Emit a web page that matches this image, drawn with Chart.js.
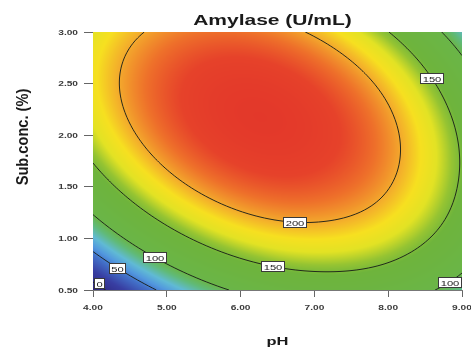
<!DOCTYPE html>
<html><head><meta charset="utf-8">
<script src="https://cdn.jsdelivr.net/npm/chart.js@4.4.0/dist/chart.umd.min.js"></script>
<style>html,body{margin:0;padding:0;background:#fff;}#wrap{width:471px;height:350px;}</style>
</head><body><div id="wrap"><canvas id="c" width="471" height="350"></canvas></div>
<script>
// ---------------- data ----------------
const chartTitle = 'Amylase (U/mL)';
const xAxisTitle = 'pH';
const yAxisTitle = 'Sub.conc. (%)';
const phValues = [4, 5, 6, 7, 8, 9];
const concValues = [0.5, 1.0, 1.5, 2.0, 2.5, 3.0];
const phTickLabels = ['4.00', '5.00', '6.00', '7.00', '8.00', '9.00'];
const concTickLabels = ['0.50', '1.00', '1.50', '2.00', '2.50', '3.00'];
// Amylase (U/mL) read at each pH (columns) for each substrate concentration (rows)
const amylaseAtConc050 = [-14.5, 58.8, 105.6, 125.8, 119.4, 83.5];
const amylaseAtConc100 = [69.2, 134.7, 173.6, 185.9, 171.7, 126.0];
const amylaseAtConc150 = [129.8, 187.5, 218.5, 223.1, 201.0, 145.5];
const amylaseAtConc200 = [167.4, 217.2, 240.5, 237.1, 207.3, 144.5];
const amylaseAtConc250 = [182.0, 223.9, 239.3, 228.2, 190.5, 121.5];
const amylaseAtConc300 = [173.5, 207.6, 215.2, 196.2, 150.6, 77.0];
const contourLevels = [0, 50, 100, 150, 200];
const contourLabelLevels = [0, 50, 100, 150, 200, 150, 100];
const contourLabelPH = [4.09, 4.34, 4.87, 6.44, 6.74, 8.61, 8.81];
const contourLabelConc = [0.57, 0.73, 0.86, 0.78, 1.24, 2.57, 0.60];

// ---------------- styles ----------------
const heatStops = [
  [-15, [45, 36, 122]],
  [20, [56, 62, 162]],
  [45, [66, 112, 200]],
  [58, [82, 152, 222]],
  [72, [96, 186, 212]],
  [88, [96, 186, 120]],
  [100, [106, 181, 72]],
  [146, [110, 180, 60]],
  [158, [150, 196, 50]],
  [172, [226, 226, 36]],
  [185, [246, 224, 32]],
  [200, [243, 168, 44]],
  [215, [238, 112, 42]],
  [230, [230, 66, 42]],
  [250, [226, 52, 42]]
];
const FONT = '"Liberation Sans", Arial, sans-serif';

// ---------------- surface from the grid ----------------
const gridRows = [amylaseAtConc050, amylaseAtConc100, amylaseAtConc150,
                  amylaseAtConc200, amylaseAtConc250, amylaseAtConc300];
function extendArr(a) {
  const n = a.length;
  return [3 * a[0] - 3 * a[1] + a[2], ...a, 3 * a[n - 1] - 3 * a[n - 2] + a[n - 3]];
}
const rowsX = gridRows.map(extendArr);
const ext = [];
(function () {
  const nc = rowsX[0].length;
  const cols = [];
  for (let c = 0; c < nc; c++) cols.push(extendArr(rowsX.map(r => r[c])));
  for (let r = 0; r < cols[0].length; r++) {
    ext.push(cols.map(col => col[r]));
  }
})();
function cr(p0, p1, p2, p3, t) {
  return 0.5 * (2 * p1 + (-p0 + p2) * t + (2 * p0 - 5 * p1 + 4 * p2 - p3) * t * t +
    (-p0 + 3 * p1 - 3 * p2 + p3) * t * t * t);
}
function surface(ph, conc) {
  const nx = phValues.length, ny = concValues.length;
  let u = (ph - phValues[0]) / (phValues[nx - 1] - phValues[0]) * (nx - 1);
  let v = (conc - concValues[0]) / (concValues[ny - 1] - concValues[0]) * (ny - 1);
  u = Math.max(0, Math.min(nx - 1, u));
  v = Math.max(0, Math.min(ny - 1, v));
  const i = Math.min(Math.floor(u), nx - 2), j = Math.min(Math.floor(v), ny - 2);
  const t = u - i, s = v - j;
  const r = [];
  for (let m = 0; m < 4; m++) {
    const row = ext[j + m];
    r.push(cr(row[i], row[i + 1], row[i + 2], row[i + 3], t));
  }
  return cr(r[0], r[1], r[2], r[3], s);
}
function colorFor(val) {
  if (val <= heatStops[0][0]) return heatStops[0][1];
  for (let k = 1; k < heatStops.length; k++) {
    if (val <= heatStops[k][0]) {
      const [v0, c0] = heatStops[k - 1], [v1, c1] = heatStops[k];
      const f = (val - v0) / (v1 - v0);
      return [c0[0] + (c1[0] - c0[0]) * f, c0[1] + (c1[1] - c0[1]) * f, c0[2] + (c1[2] - c0[2]) * f];
    }
  }
  return heatStops[heatStops.length - 1][1];
}
function drawText(ctx, text, x, y, o) {
  ctx.save();
  ctx.translate(x, y);
  if (o.rotate) ctx.rotate(o.rotate);
  ctx.scale(o.sx || 1, o.sy || 1);
  ctx.font = o.font;
  ctx.fillStyle = o.color || '#222';
  ctx.textAlign = o.align || 'center';
  ctx.textBaseline = o.baseline || 'alphabetic';
  ctx.fillText(text, 0, 0);
  ctx.restore();
}

const surfacePlugin = {
  id: 'surface',
  beforeDatasetsDraw(chart) {
    const { ctx, chartArea: a } = chart;
    const xs = chart.scales.x, ys = chart.scales.y;
    const W = Math.round(a.right - a.left), H = Math.round(a.bottom - a.top);
    const off = document.createElement('canvas');
    off.width = W; off.height = H;
    const octx = off.getContext('2d');
    const img = octx.createImageData(W, H);
    const phs = [], cs = [];
    for (let i = 0; i < W; i++) phs.push(xs.getValueForPixel(a.left + i + 0.5));
    for (let j = 0; j < H; j++) cs.push(ys.getValueForPixel(a.top + j + 0.5));
    for (let j = 0; j < H; j++) {
      for (let i = 0; i < W; i++) {
        const c = colorFor(surface(phs[i], cs[j]));
        const k = (j * W + i) * 4;
        img.data[k] = c[0]; img.data[k + 1] = c[1]; img.data[k + 2] = c[2]; img.data[k + 3] = 255;
      }
    }
    octx.putImageData(img, 0, 0);
    ctx.drawImage(off, a.left, a.top);

    // contour lines (marching squares)
    const step = 2;
    const gx = [], gy = [];
    for (let x = a.left; x < a.right; x += step) gx.push(x);
    gx.push(a.right);
    for (let y = a.top; y < a.bottom; y += step) gy.push(y);
    gy.push(a.bottom);
    const vals = gy.map(y => {
      const c = ys.getValueForPixel(y);
      return gx.map(x => surface(xs.getValueForPixel(x), c));
    });
    ctx.save();
    ctx.beginPath();
    ctx.rect(a.left, a.top, a.right - a.left, a.bottom - a.top);
    ctx.clip();
    ctx.beginPath();
    contourLevels.forEach(L => {
      for (let j = 0; j < gy.length - 1; j++) {
        for (let i = 0; i < gx.length - 1; i++) {
          const p = [
            [gx[i], gy[j], vals[j][i]],
            [gx[i + 1], gy[j], vals[j][i + 1]],
            [gx[i + 1], gy[j + 1], vals[j + 1][i + 1]],
            [gx[i], gy[j + 1], vals[j + 1][i]]
          ];
          const pts = [];
          for (let e = 0; e < 4; e++) {
            const A = p[e], B = p[(e + 1) % 4];
            if ((A[2] >= L) !== (B[2] >= L)) {
              const f = (L - A[2]) / (B[2] - A[2]);
              pts.push([A[0] + (B[0] - A[0]) * f, A[1] + (B[1] - A[1]) * f]);
            }
          }
          for (let q = 0; q + 1 < pts.length; q += 2) {
            ctx.moveTo(pts[q][0], pts[q][1]);
            ctx.lineTo(pts[q + 1][0], pts[q + 1][1]);
          }
        }
      }
    });
    ctx.strokeStyle = 'rgba(25,30,25,0.92)';
    ctx.lineWidth = 1;
    ctx.stroke();
    ctx.restore();
  },
  afterDraw(chart) {
    const { ctx, chartArea: a } = chart;
    const xs = chart.scales.x, ys = chart.scales.y;
    const f = (x, y) => surface(xs.getValueForPixel(x), ys.getValueForPixel(y));
    // contour labels
    contourLabelLevels.forEach((L, k) => {
      let px = xs.getPixelForValue(contourLabelPH[k]);
      let py = ys.getPixelForValue(contourLabelConc[k]);
      for (let it = 0; it < 6; it++) {
        const v = f(px, py) - L;
        const gxv = (f(px + 1, py) - f(px - 1, py)) / 2;
        const gyv = (f(px, py + 1) - f(px, py - 1)) / 2;
        const g2 = gxv * gxv + gyv * gyv;
        if (g2 < 1e-9) break;
        px -= v * gxv / g2; py -= v * gyv / g2;
      }
      const text = String(L);
      ctx.save();
      ctx.font = '8px ' + FONT;
      const tw = ctx.measureText(text).width * 1.4;
      ctx.restore();
      const bw = Math.round(tw + 4), bh = 10;
      px = Math.max(a.left + bw / 2 + 1, Math.min(a.right - bw / 2 - 1, px));
      py = Math.max(a.top + bh / 2 + 1, Math.min(a.bottom - bh / 2 - 2, py));
      ctx.save();
      ctx.fillStyle = '#ffffff';
      ctx.strokeStyle = '#3a3a3a';
      ctx.lineWidth = 1;
      const bx = Math.round(px - bw / 2) + 0.5, by = Math.round(py - bh / 2) + 0.5;
      ctx.fillRect(bx, by, bw, bh);
      ctx.strokeRect(bx, by, bw, bh);
      ctx.restore();
      drawText(ctx, text, bx + bw / 2, by + 8.3, { font: '8px ' + FONT, sx: 1.4, color: '#222' });
    });
    // tick labels
    phValues.forEach((v, k) => {
      drawText(ctx, phTickLabels[k], xs.getPixelForValue(v), a.bottom + 19.5,
        { font: 'bold 7px ' + FONT, sx: 1.45, color: '#3a3a3a' });
    });
    concValues.forEach((v, k) => {
      drawText(ctx, concTickLabels[k], a.left - 15, ys.getPixelForValue(v) + 2.5,
        { font: 'bold 7px ' + FONT, sx: 1.45, color: '#3a3a3a', align: 'right' });
    });
    // titles
    drawText(ctx, chartTitle, (a.left + a.right) / 2 - 5, 25, { font: 'bold 14px ' + FONT, sx: 1.5, color: '#1a1a1a' });
    drawText(ctx, xAxisTitle, (a.left + a.right) / 2, 345, { font: 'bold 11px ' + FONT, sx: 1.5, color: '#1a1a1a' });
    drawText(ctx, yAxisTitle, 28, 137, { font: 'bold 11px ' + FONT, sx: 1.33, sy: 1.5, rotate: -Math.PI / 2, color: '#1a1a1a' });
  }
};

new Chart(document.getElementById('c'), {
  type: 'scatter',
  data: { datasets: [] },
  options: {
    responsive: false,
    animation: false,
    devicePixelRatio: 1,
    layout: { padding: { left: 84, right: 9, top: 32, bottom: 53 } },
    plugins: { legend: { display: false }, tooltip: { enabled: false }, title: { display: false } },
    scales: {
      x: {
        type: 'linear', min: phValues[0], max: phValues[phValues.length - 1], z: 1,
        afterBuildTicks: s => { s.ticks = phValues.map(v => ({ value: v })); },
        ticks: { display: false },
        grid: { drawOnChartArea: false, drawTicks: true, tickLength: 7, color: '#666', lineWidth: 1 },
        border: { display: true, color: '#777', width: 1 }
      },
      y: {
        type: 'linear', min: concValues[0], max: concValues[concValues.length - 1], z: 1,
        afterBuildTicks: s => { s.ticks = concValues.map(v => ({ value: v })); },
        ticks: { display: false },
        grid: { drawOnChartArea: false, drawTicks: true, tickLength: 9, color: '#666', lineWidth: 1 },
        border: { display: true, color: '#777', width: 1 }
      }
    }
  },
  plugins: [surfacePlugin]
});
</script>
</body></html>
